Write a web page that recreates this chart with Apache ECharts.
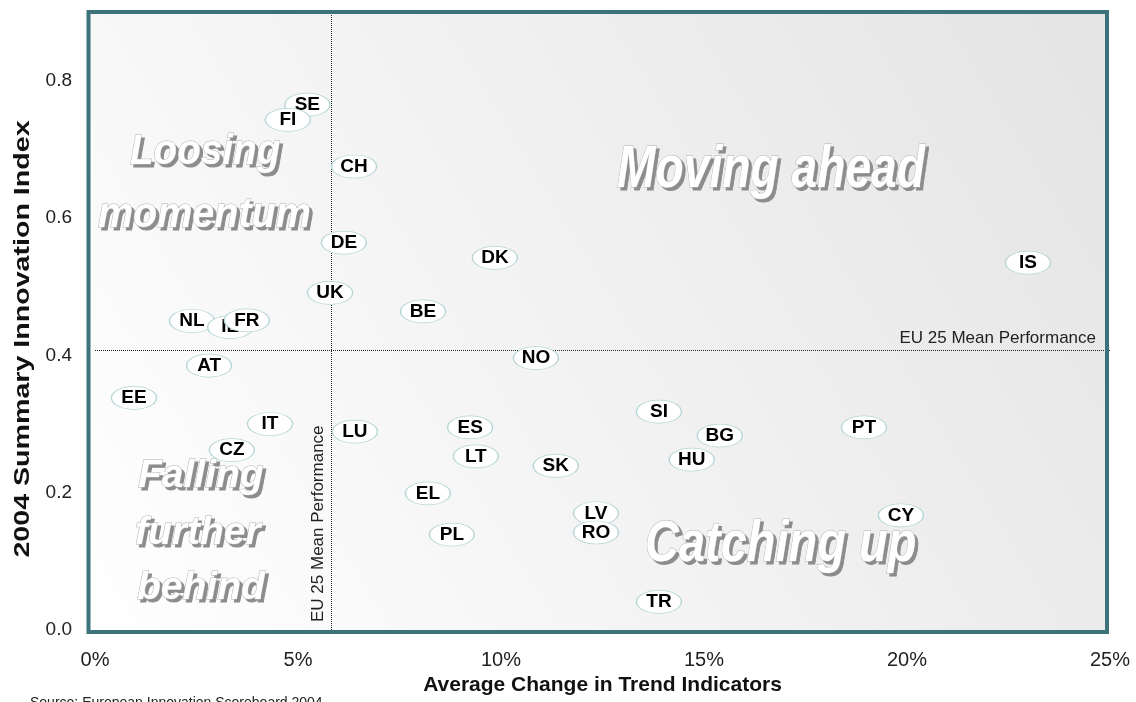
<!DOCTYPE html>
<html>
<head>
<meta charset="utf-8">
<script src="https://cdn.jsdelivr.net/npm/echarts@6/dist/echarts.min.js"></script>
<style>
  html, body { margin: 0; padding: 0; background: #fff; }
  #main { width: 1136px; height: 702px; }
</style>
</head>
<body>
<div id="main"></div>
<script>
// country codes, drawn in this order (later ones cover earlier ones)
var countries = ["SE", "FI", "CH", "DE", "DK", "IS", "UK", "BE", "NL", "IE", "FR", "NO", "AT", "EE", "SI",
  "IT", "LU", "ES", "PT", "BG", "CZ", "LT", "HU", "SK", "EL", "LV", "CY", "RO", "PL", "TR"];
// average change in trend indicators
var trendChange = [0.0523, 0.0475, 0.0638, 0.0613, 0.0985, 0.2298, 0.0579, 0.0808, 0.0239, 0.0333, 0.0374, 0.1086, 0.0281, 0.0096, 0.1389,
  0.0431, 0.0640, 0.0924, 0.1894, 0.1539, 0.0337, 0.0938, 0.1470, 0.1135, 0.0820, 0.1234, 0.1985, 0.1234, 0.0879, 0.1389];
// 2004 summary innovation index
var innovationIndex = [0.765, 0.743, 0.675, 0.564, 0.542, 0.535, 0.491, 0.464, 0.450, 0.441, 0.451, 0.396, 0.385, 0.338, 0.318,
  0.300, 0.289, 0.295, 0.295, 0.283, 0.262, 0.253, 0.248, 0.239, 0.199, 0.170, 0.167, 0.142, 0.139, 0.041];
var euMeanTrend = 0.0581;
var euMeanIndex = 0.407;
var meanLabel = "EU 25 Mean Performance";

var FONT = "'Liberation Sans', Arial, sans-serif";
var chart = echarts.init(document.getElementById("main"));

// outlined white word-art text with a grey drop shadow
function wordArt(text, left, top, size, sx) {
  var font = "italic bold " + size + "px " + FONT;
  return [
    {
      type: "text", x: left + 3, y: top + 3, scaleX: sx, z: 1, silent: true,
      style: { text: text, font: font, fill: "#8c8c8c", stroke: "#8c8c8c", lineWidth: 1 }
    },
    {
      type: "text", x: left, y: top, scaleX: sx, z: 1, silent: true,
      style: { text: text, font: font, fill: "#ffffff", stroke: "#b0b0b0", lineWidth: 1 }
    }
  ];
}

var countrySeries = countries.map(function (c, i) {
  return {
    type: "scatter",
    name: c,
    z: 3 + i,
    silent: true,
    symbol: "circle",
    symbolSize: [45, 23],
    itemStyle: { color: "#ffffff", borderColor: "#b7d5d5", borderWidth: 1, opacity: 1 },
    label: {
      show: true,
      position: "inside",
      formatter: c,
      color: "#000",
      fontWeight: "bold",
      fontSize: 19,
      fontFamily: FONT
    },
    data: [[trendChange[i], innovationIndex[i]]]
  };
});

var meanSeries = {
  type: "scatter",
  z: 60,
  silent: true,
  data: [],
  markLine: {
    silent: true,
    symbol: "none",
    precision: 4,
    animation: false,
    lineStyle: { type: "dotted", color: "#222", width: 1 },
    label: {
      color: "#222",
      fontSize: 17,
      fontFamily: FONT,
      formatter: meanLabel
    },
    data: [
      { xAxis: euMeanTrend, label: { position: "insideStartTop", distance: [8, 4] } },
      { yAxis: euMeanIndex, label: { position: "insideEndTop", distance: [14, 4] } }
    ]
  }
};

chart.setOption({
  animation: false,
  backgroundColor: "#ffffff",
  textStyle: { fontFamily: FONT },
  grid: { left: 95, right: 26, top: 12, bottom: 72 },
  xAxis: {
    type: "value",
    min: 0,
    max: 0.25,
    interval: 0.05,
    name: "Average Change in Trend Indicators",
    nameLocation: "middle",
    nameGap: 40,
    nameTextStyle: { fontSize: 21, fontWeight: "bold", color: "#111" },
    axisLine: { show: false },
    axisTick: { show: false },
    splitLine: { show: false },
    axisLabel: {
      fontSize: 20,
      color: "#222",
      margin: 20,
      formatter: function (v) { return Math.round(v * 100) + "%"; }
    }
  },
  yAxis: {
    type: "value",
    min: 0,
    max: 0.9,
    interval: 0.2,
    axisLine: { show: false },
    axisTick: { show: false },
    splitLine: { show: false },
    axisLabel: {
      fontSize: 19,
      color: "#222",
      margin: 23,
      showMaxLabel: false,
      formatter: function (v) { return v.toFixed(1); }
    }
  },
  graphic: [
    {
      type: "rect", z: -10, silent: true,
      shape: { x: 88, y: 12, width: 1019, height: 620 },
      style: {
        fill: {
          type: "linear", x: 1, y: 0, x2: 0, y2: 1,
          colorStops: [{ offset: 0, color: "#e4e4e4" }, { offset: 1, color: "#ffffff" }]
        }
      }
    },
    {
      type: "rect", z: 100, silent: true,
      shape: { x: 88.5, y: 12, width: 1018.5, height: 620 },
      style: { fill: "none", stroke: "#3d727a", lineWidth: 4 }
    },
    {
      // y axis title, stretched along its length like the original
      type: "text", x: 23, y: 339, rotation: Math.PI / 2, scaleX: 1.3, silent: true,
      style: {
        text: "2004 Summary Innovation Index", font: "bold 22px " + FONT, fill: "#111",
        align: "center", verticalAlign: "middle"
      }
    },
    {
      type: "text", x: 30, y: 696, silent: true,
      style: { text: "Source: European Innovation Scoreboard 2004", font: "14px " + FONT, fill: "#222" }
    }
  ]
    .concat(wordArt("Loosing", 130, 131, 42, 0.92))
    .concat(wordArt("momentum", 98, 194, 42, 0.94))
    .concat(wordArt("Moving ahead", 617, 140, 60, 0.77))
    .concat(wordArt("Falling", 138, 457, 39, 1))
    .concat(wordArt("further", 135, 514, 39, 1))
    .concat(wordArt("behind", 137, 569, 39, 1))
    .concat(wordArt("Catching up", 645, 516, 58, 0.81)),
  series: countrySeries.concat([meanSeries])
});
</script>
</body>
</html>
